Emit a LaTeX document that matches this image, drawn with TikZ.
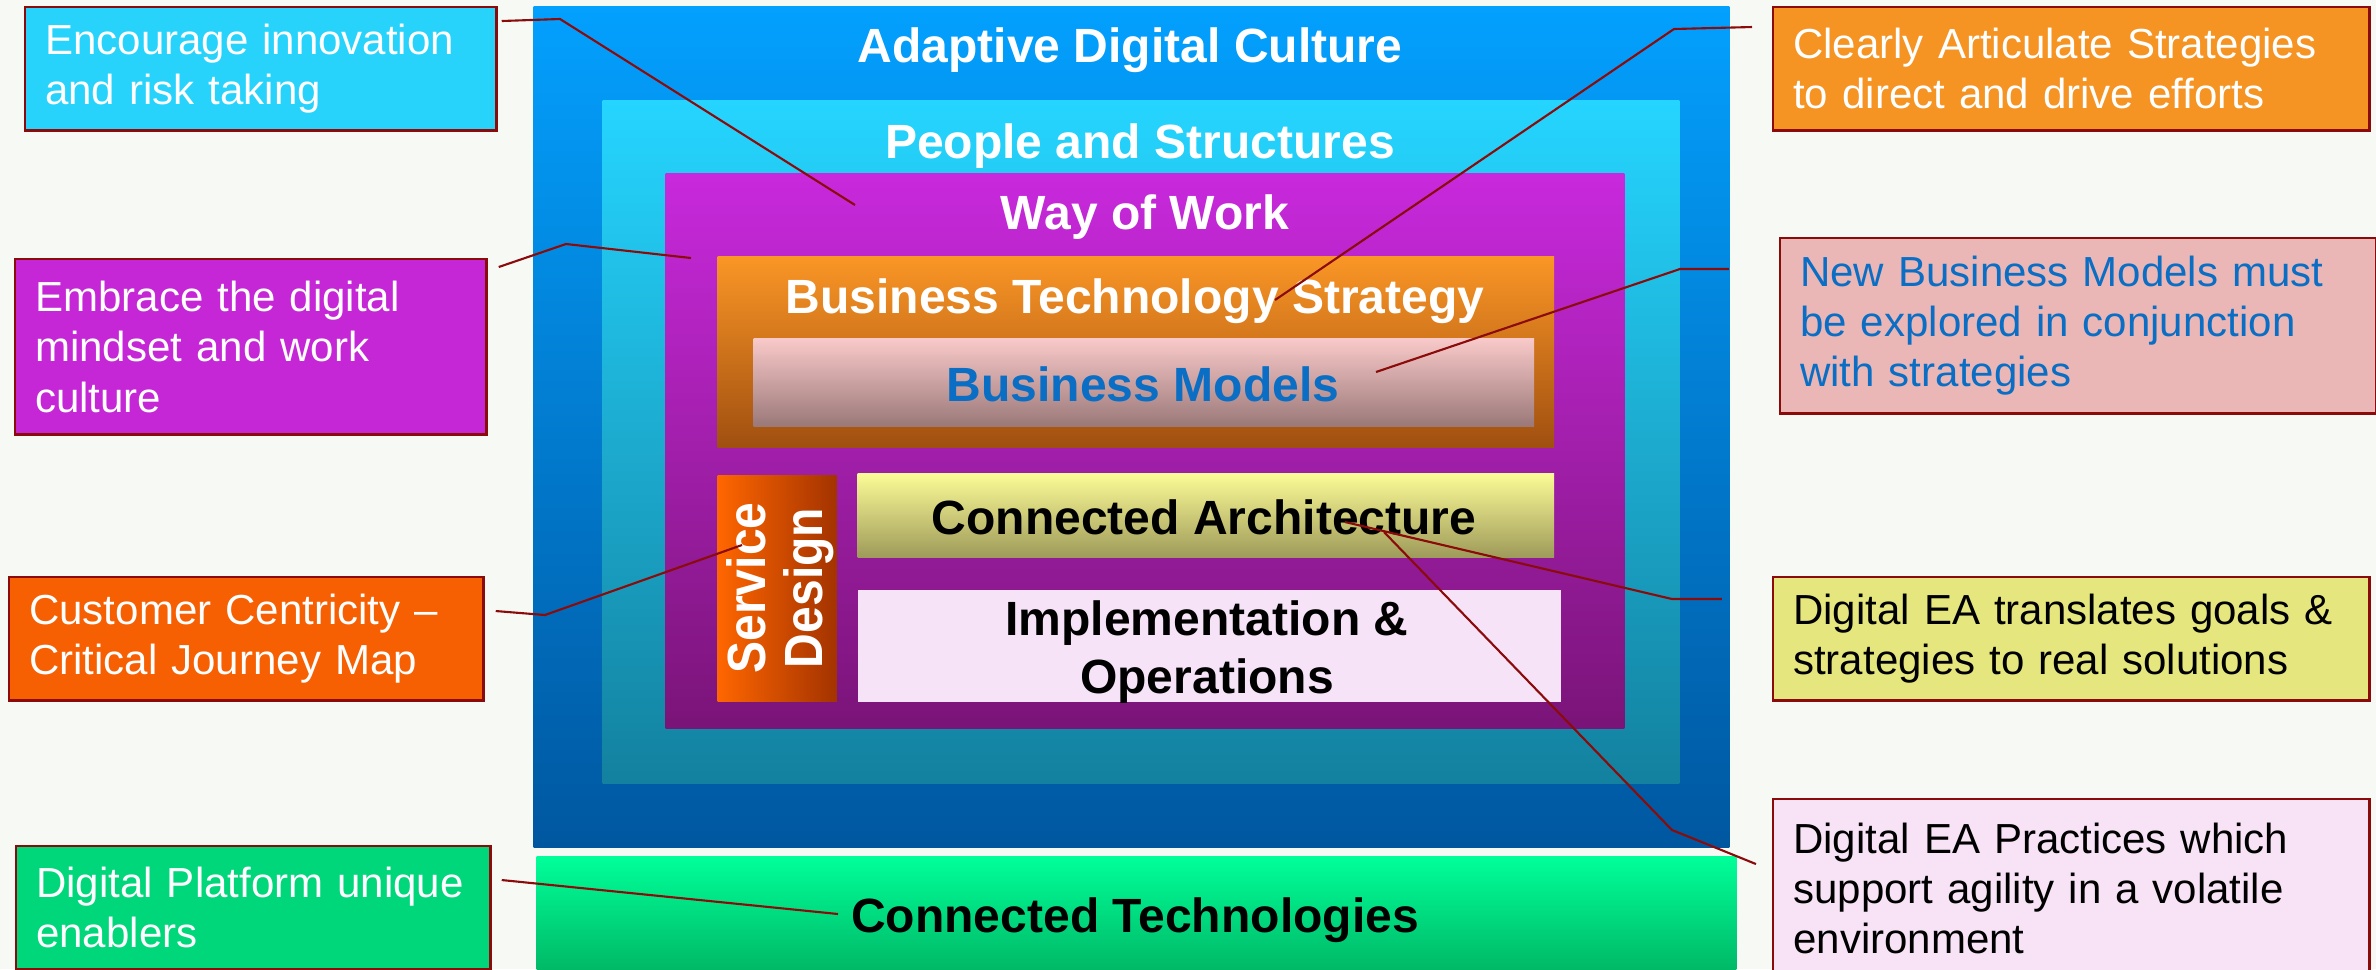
\documentclass[tikz,border=0pt]{standalone}
\usepackage{fontspec}
\setmainfont{Liberation Sans}
\definecolor{bgcol}{HTML}{F7F9F5}
\definecolor{linered}{HTML}{8B0A0A}
\definecolor{encc}{HTML}{27D3FB}
\definecolor{embc}{HTML}{C526D6}
\definecolor{custc}{HTML}{F65F02}
\definecolor{platc}{HTML}{00D77B}
\definecolor{clearc}{HTML}{F59323}
\definecolor{newbmc}{HTML}{EAB6B6}
\definecolor{deac}{HTML}{E6E67E}
\definecolor{deapc}{HTML}{F7E2F6}
\definecolor{bluetxt}{HTML}{0A6EC4}
\definecolor{adcT}{HTML}{03A0FE}
\definecolor{adcB}{HTML}{0057A0}
\definecolor{psT}{HTML}{25D5FF}
\definecolor{psB}{HTML}{13819F}
\definecolor{wowT}{HTML}{C829DC}
\definecolor{wowB}{HTML}{7A1478}
\definecolor{btsT}{HTML}{FA9626}
\definecolor{btsB}{HTML}{A04F10}
\definecolor{bmT}{HTML}{F9C9C9}
\definecolor{bmB}{HTML}{9A7878}
\definecolor{sdL}{HTML}{FF6600}
\definecolor{sdR}{HTML}{A33300}
\definecolor{caT}{HTML}{FBFB96}
\definecolor{caB}{HTML}{9E9A5A}
\definecolor{ioc}{HTML}{F7E3F7}
\definecolor{ctT}{HTML}{00FF99}
\definecolor{ctB}{HTML}{00B564}
\begin{document}
\begin{tikzpicture}[x=0.01cm,y=-0.01cm,
  callout/.style={draw=linered, line width=0.7pt, anchor=north west, inner xsep=0.2cm, inner ysep=0pt, align=left, font=\fontsize{11.95}{14.3}\selectfont},
  layer/.style={anchor=north west, inner sep=0pt, draw=none},
  title/.style={font=\fontsize{13.66}{16.5}\selectfont\bfseries, inner sep=0pt, align=center},
  conn/.style={draw=linered, line width=0.6pt}
]
\useasboundingbox (0,0) rectangle (2376,969);
\clip (0,0) rectangle (2376,969);
\fill[bgcol] (0,0) rectangle (2376,969);

% main nested layers
\node[layer, top color=adcT, bottom color=adcB, minimum width=11.95cm, minimum height=8.40cm] (adc) at (533,6) {};
\node[layer, top color=psT, bottom color=psB, minimum width=10.76cm, minimum height=6.82cm] (ps) at (602,100) {};
\node[layer, top color=wowT, bottom color=wowB, minimum width=9.58cm, minimum height=5.54cm] (wow) at (665,173) {};
\node[layer, top color=btsT, bottom color=btsB, minimum width=8.36cm, minimum height=1.91cm] (bts) at (717,256) {};
\node[layer, top color=bmT, bottom color=bmB, minimum width=7.80cm, minimum height=0.88cm] (bm) at (753,338) {};
\node[layer, left color=sdL, right color=sdR, minimum width=1.19cm, minimum height=2.26cm] (sd) at (717,475) {};
\node[layer, top color=caT, bottom color=caB, minimum width=6.96cm, minimum height=0.84cm] (ca) at (857,473) {};
\node[layer, fill=ioc, minimum width=7.03cm, minimum height=1.12cm] (io) at (857,589) {};
\node[layer, top color=ctT, bottom color=ctB, minimum width=11.99cm, minimum height=1.19cm] (ct) at (536,856) {};

% layer titles
\node[title, white] (adct) at (1130,50) {Adaptive Digital Culture};
\node[title, white] (pst) at (1140,146) {People and Structures};
\node[title, white] (wowt) at (1145,217) {Way of Work};
\node[title, white] (btst) at (1135,301) {Business Technology Strategy};
\node[title, bluetxt] (bmt) at (1143,384) {Business Models};
\node[title, white, rotate=90] (sdt) at (783,588) {\scalebox{1}[1.12]{\fontsize{13.66}{14.5}\selectfont\begin{tabular}{@{}c@{}}Service\\Design\end{tabular}}};
\node[title, black] (cat) at (1204,517) {Connected Architecture};
\node[title, black] (iot) at (1207,652) {Implementation \&\\Operations};
\node[title, black] (ctt) at (1135,920) {Connected Technologies};

% callouts left
\node[callout, fill=encc, text=white, minimum width=4.71cm, minimum height=1.23cm, text width=4.31cm] (enc) at (24,6) {Encourage innovation\\and risk taking};
\node[callout, fill=embc, text=white, minimum width=4.71cm, minimum height=1.75cm, text width=4.31cm] (emb) at (14,258) {Embrace the digital\\mindset and work\\culture};
\node[callout, fill=custc, text=white, minimum width=4.74cm, minimum height=1.23cm, text width=4.34cm] (cust) at (8,576) {Customer Centricity --\\Critical Journey Map};
\node[callout, fill=platc, text=white, minimum width=4.74cm, minimum height=1.23cm, text width=4.34cm] (plat) at (15,845) {Digital Platform unique\\enablers};

% callouts right
\node[callout, fill=clearc, text=white, minimum width=5.96cm, minimum height=1.23cm, text width=5.56cm] (clear) at (1772,6) {Clearly Articulate Strategies\\to direct and drive efforts};
\node[callout, fill=newbmc, text=bluetxt, minimum width=5.96cm, minimum height=1.75cm, text width=5.56cm] (newbm) at (1779,237) {New Business Models must\\be explored in conjunction\\with strategies};
\node[callout, fill=deac, text=black, minimum width=5.96cm, minimum height=1.23cm, text width=5.56cm] (dea) at (1772,576) {Digital EA translates goals \&\\strategies to real solutions};
\node[callout, fill=deapc, text=black, minimum width=5.96cm, minimum height=1.78cm, text width=5.56cm] (deap) at (1772,798) {Digital EA Practices which\\support agility in a volatile\\environment};

% connector points
\coordinate (k1) at (560,19);  \coordinate (e1) at (855,205);
\coordinate (k2) at (566,244); \coordinate (e2) at (691,258);
\coordinate (k3) at (545,615); \coordinate (e3) at (742,545);
\coordinate (e4) at (838,914);
\coordinate (k5) at (1674,29); \coordinate (e5) at (1275,300);
\coordinate (k6) at (1680,269); \coordinate (e6) at (1376,372);
\coordinate (k7) at (1672,599); \coordinate (e7) at (1345,522);
\coordinate (k8) at (1672,830); \coordinate (e8) at (1384,532);

\draw[conn] ([xshift=0.04cm,yshift=-0.15cm]enc.north east) -- (k1) -- (e1);
\draw[conn] ([xshift=0.11cm,yshift=-0.09cm]emb.north east) -- (k2) -- (e2);
\draw[conn] ([xshift=0.11cm,yshift=-0.35cm]cust.north east) -- (k3) -- (e3);
\draw[conn] ([xshift=0.10cm,yshift=-0.35cm]plat.north east) -- (e4);
\draw[conn] ([xshift=-0.20cm,yshift=-0.21cm]clear.north west) -- (k5) -- (e5);
\draw[conn] ([xshift=-0.50cm,yshift=-0.32cm]newbm.north west) -- (k6) -- (e6);
\draw[conn] ([xshift=-0.50cm,yshift=-0.23cm]dea.north west) -- (k7) -- (e7);
\draw[conn] ([xshift=-0.16cm,yshift=-0.66cm]deap.north west) -- (k8) -- (e8);
\end{tikzpicture}
\end{document}
